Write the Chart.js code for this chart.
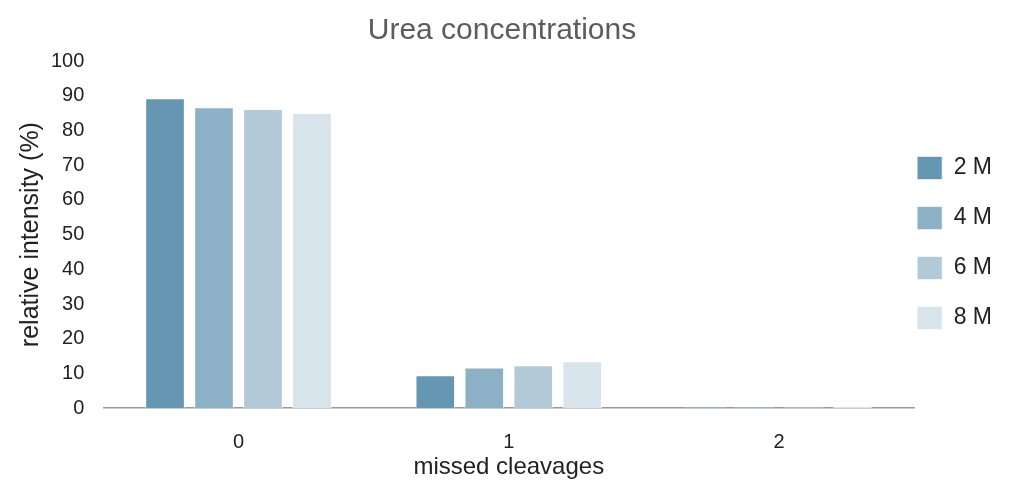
<!DOCTYPE html>
<html>
<head>
<meta charset="utf-8">
<script src="https://cdn.jsdelivr.net/npm/chart.js@4"></script>
<style>
  html, body { margin: 0; padding: 0; background: #fff; }
  #wrap { width: 1024px; height: 488px; }
</style>
</head>
<body>
<div id="wrap"><canvas id="myChart"></canvas></div>
<script>
const categories = ['0', '1', '2'];
const seriesNames = ['2 M', '4 M', '6 M', '8 M'];
const urea2M = [89.3, 9.5, 0.3];
const urea4M = [86.7, 11.7, 0.3];
const urea6M = [86.2, 12.4, 0.3];
const urea8M = [85.0, 13.5, 0.6];
const colors = ['#6597b3', '#8cb1c6', '#b2cad8', '#d7e4ec'];

const font = "'Liberation Sans', Arial, sans-serif";
Chart.defaults.font.family = font;

// nudge legend closer to the plot and title a bit left, like the original
const nudge = {
    id: 'nudge',
    afterLayout(chart) {
        const lg = chart.legend;
        lg.left -= 24;
        lg.right -= 24;
        const t = chart.titleBlock;
        t.left -= 17;
        t.right -= 17;
    }
};

const ctx = document.getElementById('myChart').getContext('2d');
const myChart = new Chart(ctx, {
    type: 'bar',
    data: {
        labels: categories,
        datasets: [urea2M, urea4M, urea6M, urea8M].map((vals, i) => ({
            label: seriesNames[i],
            data: vals,
            backgroundColor: colors[i],
            borderColor: 'rgba(255,255,255,0.6)',
            borderWidth: 1,
            barPercentage: 0.81,
            categoryPercentage: 0.725
        }))
    },
    plugins: [nudge],
    options: {
        responsive: true,
        maintainAspectRatio: false,
        animation: false,
        layout: { padding: { left: 12, right: -2, top: 0, bottom: 2 } },
        plugins: {
            title: {
                display: true,
                text: 'Urea concentrations',
                color: '#5c5c5c',
                font: { size: 30, weight: 'normal' },
                padding: { top: 13, bottom: 12 }
            },
            legend: {
                position: 'right',
                labels: {
                    boxWidth: 25,
                    boxHeight: 23,
                    padding: 27,
                    color: '#222',
                    font: { size: 23 }
                }
            },
            tooltip: { enabled: false }
        },
        scales: {
            x: {
                grid: { display: false },
                border: { color: '#9a9a9a', width: 1.5 },
                ticks: { color: '#222', font: { size: 20 }, padding: 14 },
                title: {
                    display: true,
                    text: 'missed cleavages',
                    color: '#222',
                    font: { size: 24 },
                    padding: { top: -15, bottom: 4 }
                }
            },
            y: {
                min: 0,
                max: 100,
                grid: { display: false },
                border: { display: false },
                ticks: { stepSize: 10, color: '#222', font: { size: 20 }, padding: 11 },
                title: {
                    display: true,
                    text: 'relative intensity (%)',
                    color: '#222',
                    font: { size: 25 },
                    padding: { top: 4, bottom: -6 }
                }
            }
        }
    }
});
</script>
</body>
</html>
